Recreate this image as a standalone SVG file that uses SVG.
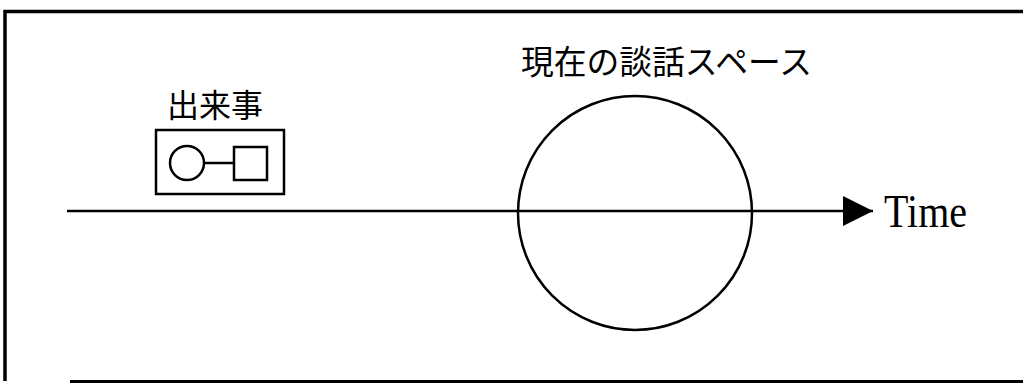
<svg xmlns="http://www.w3.org/2000/svg" width="1023" height="383" viewBox="0 0 1023 383">
<style>
.ln{fill:none;stroke:#000;stroke-width:2.5}
.jp{font-family:"Noto Sans CJK JP","Noto Sans",sans-serif;fill:#000}
.tm{font-family:"Liberation Serif",serif;fill:#000}
</style>
<defs>
<marker id="ah" markerUnits="userSpaceOnUse" markerWidth="32" markerHeight="30" refX="30" refY="15" orient="auto">
<path d="M0,0 L30,15 L0,30 Z" fill="#000"/>
</marker>
</defs>
<rect x="0" y="0" width="1023" height="383" fill="#fff"/>
<g id="frame">
<path d="M5,381 L5,11.5 L1030,11.5" fill="none" stroke="#000" stroke-width="3.5"/>
<path d="M70,381.5 L1030,381.5" fill="none" stroke="#000" stroke-width="3"/>
</g>
<g id="event">
<text class="jp" x="167" y="117" font-size="32" textLength="96" lengthAdjust="spacingAndGlyphs">出来事</text>
<rect class="ln" x="156" y="130" width="128" height="64"/>
<circle class="ln" cx="187" cy="163" r="17"/>
<line class="ln" x1="204" y1="163" x2="234" y2="163"/>
<rect class="ln" x="234" y="147" width="33" height="33"/>
</g>
<g id="discourse-space">
<text class="jp" x="521" y="74" font-size="33" textLength="291" lengthAdjust="spacingAndGlyphs">現在の談話スペース</text>
<circle class="ln" cx="635" cy="213" r="117"/>
</g>
<g id="connectors">
<line class="ln" x1="67" y1="211" x2="873" y2="211" marker-end="url(#ah)"/>
</g>
<g id="time-label">
<text class="tm" x="884" y="227" font-size="46" textLength="83" lengthAdjust="spacingAndGlyphs">Time</text>
</g>
</svg>
